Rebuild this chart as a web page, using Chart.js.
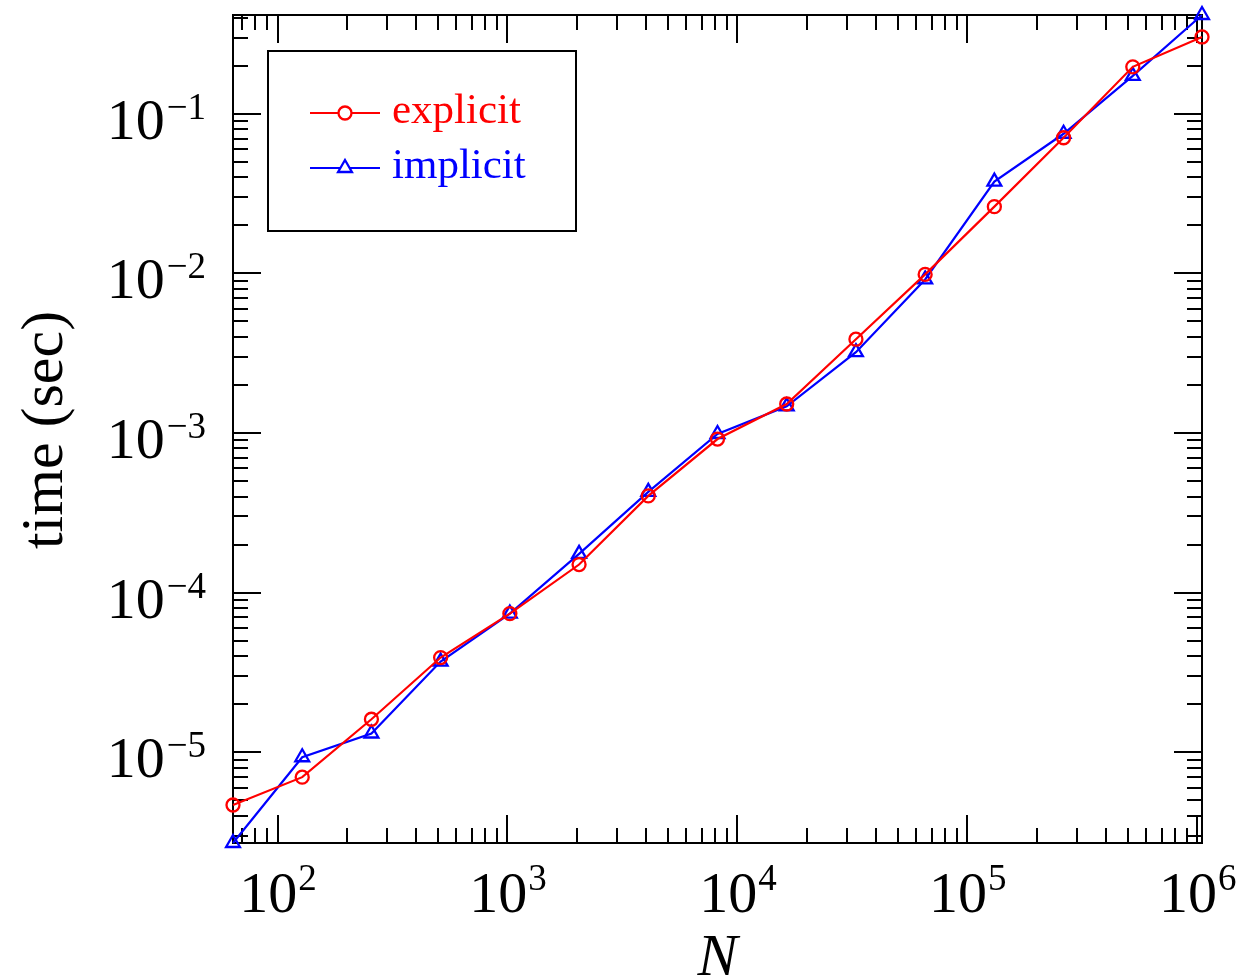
<!DOCTYPE html>
<html><head><meta charset="utf-8">
<script src="https://cdn.jsdelivr.net/npm/chart.js@4.4.1/dist/chart.umd.min.js"></script>
<style>html,body{margin:0;padding:0;background:#fff}#wrap{width:1238px;height:979px}</style>
</head><body><div id="wrap"><canvas id="c" width="1238" height="979"></canvas></div>
<script>
const N = [64,128,256,512,1024,2048,4096,8192,16384,32768,65536,131072,262144,524288,1048576];
const explicitTime = [4.67e-6, 6.98e-6, 1.61e-5, 3.92e-5, 7.39e-5, 1.50e-4, 4.04e-4, 9.17e-4, 1.52e-3, 3.87e-3, 9.86e-3, 2.62e-2, 7.08e-2, 0.197, 0.303];
const implicitTime = [2.7e-6, 9.3e-6, 1.31e-5, 3.7e-5, 7.39e-5, 1.75e-4, 4.28e-4, 9.86e-4, 1.47e-3, 3.21e-3, 9.17e-3, 3.76e-2, 7.5e-2, 0.173, 0.416];
const xMajorTicks = [1e2,1e3,1e4,1e5,1e6];
const xTickExp = ['2','3','4','5','6'];
const yMajorTicks = [1e-5,1e-4,1e-3,1e-2,1e-1];
const yTickExp = ['\u22125','\u22124','\u22123','\u22122','\u22121'];
const seriesLabels = ['explicit','implicit'];
const seriesColors = ['#ff0000','#0000ff'];
const xTitle = 'N', yTitle = 'time (sec)';

const FONT = '"Liberation Serif", "Times New Roman", serif';
const xMin = N[0], xMax = N[N.length-1];
const allY = explicitTime.concat(implicitTime);
const yMin = Math.min(...allY), yMax = Math.max(...allY);

function minorTicks(lo, hi){
  const out=[];
  for(let e=Math.floor(Math.log10(lo)); e<=Math.ceil(Math.log10(hi)); e++){
    for(let k=2;k<=9;k++){ const v=k*Math.pow(10,e); if(v>=lo*0.9999 && v<=hi*1.0001) out.push(v); }
  }
  return out;
}

const framePlugin = {
  id:'frame',
  beforeDatasetsDraw(chart){
    const {ctx, chartArea:a, scales:{x,y}} = chart;
    ctx.save();
    ctx.strokeStyle='#000'; ctx.lineWidth=2;
    const MAJ=28, MIN=15;
    ctx.beginPath();
    xMajorTicks.forEach(v=>{ const px=Math.round(x.getPixelForValue(v));
      ctx.moveTo(px,a.bottom); ctx.lineTo(px,a.bottom-MAJ);
      ctx.moveTo(px,a.top); ctx.lineTo(px,a.top+MAJ); });
    minorTicks(xMin,xMax).forEach(v=>{ const px=Math.round(x.getPixelForValue(v));
      ctx.moveTo(px,a.bottom); ctx.lineTo(px,a.bottom-MIN);
      ctx.moveTo(px,a.top); ctx.lineTo(px,a.top+MIN); });
    yMajorTicks.forEach(v=>{ const py=Math.round(y.getPixelForValue(v));
      ctx.moveTo(a.left,py); ctx.lineTo(a.left+MAJ,py);
      ctx.moveTo(a.right,py); ctx.lineTo(a.right-MAJ,py); });
    minorTicks(yMin,yMax).forEach(v=>{ const py=Math.round(y.getPixelForValue(v));
      ctx.moveTo(a.left,py); ctx.lineTo(a.left+MIN,py);
      ctx.moveTo(a.right,py); ctx.lineTo(a.right-MIN,py); });
    ctx.stroke();
    ctx.strokeRect(a.left,a.top,a.right-a.left,a.bottom-a.top);
    ctx.restore();
  },
  afterDraw(chart){
    const {ctx, chartArea:a, scales:{x,y}} = chart;
    ctx.save();
    ctx.fillStyle='#000';
    const baseF='58px '+FONT, supF='37px '+FONT;
    // x tick labels
    xMajorTicks.forEach((v,i)=>{
      const px=x.getPixelForValue(v);
      ctx.font=baseF; const w1=ctx.measureText('10').width;
      ctx.font=supF; const w2=ctx.measureText(xTickExp[i]).width;
      const left=px-(w1+w2)/2;
      ctx.textAlign='left'; ctx.textBaseline='alphabetic';
      ctx.font=baseF; ctx.fillText('10',left,a.bottom+69);
      ctx.font=supF; ctx.fillText(xTickExp[i],left+w1+1,a.bottom+47);
    });
    // y tick labels
    yMajorTicks.forEach((v,i)=>{
      const py=y.getPixelForValue(v);
      const right=a.left-27;
      ctx.font=supF; const w2=ctx.measureText(yTickExp[i]).width;
      ctx.textAlign='left'; ctx.textBaseline='alphabetic';
      ctx.fillText(yTickExp[i],right-w2,py+5);
      ctx.font=baseF; const w1=ctx.measureText('10').width;
      ctx.fillText('10',right-w2-w1-2,py+25);
    });
    // axis titles
    ctx.font='italic 60px '+FONT; ctx.textAlign='center'; ctx.textBaseline='alphabetic';
    ctx.fillText(xTitle,(a.left+a.right)/2,975);
    ctx.save();
    ctx.translate(62,430); ctx.rotate(-Math.PI/2);
    ctx.font='60px '+FONT; ctx.textAlign='center'; ctx.textBaseline='alphabetic';
    ctx.fillText(yTitle,0,0);
    ctx.restore();
    // legend
    ctx.lineWidth=2; ctx.strokeStyle='#000';
    ctx.strokeRect(268,51,308,180);
    const rows=[113,168];
    chart.data.datasets.forEach((ds,i)=>{
      const ly=rows[i];
      ctx.strokeStyle=ds.borderColor; ctx.lineWidth=2;
      ctx.beginPath(); ctx.moveTo(310,ly); ctx.lineTo(380,ly); ctx.stroke();
      ctx.fillStyle='#ffffff'; ctx.strokeStyle=ds.borderColor; ctx.lineWidth=ds.pointBorderWidth;
      Chart.helpers.drawPoint(ctx,{pointStyle:ds.pointStyle,radius:ds.pointRadius,rotation:0,borderWidth:ds.pointBorderWidth},345,ly);
      ctx.fillStyle=ds.borderColor; ctx.font='43px '+FONT; ctx.textAlign='left'; ctx.textBaseline='alphabetic';
      ctx.fillText(ds.label,392,ly+10);
    });
    ctx.restore();
  }
};

new Chart(document.getElementById('c'),{
  type:'line',
  data:{
    datasets:[
      {label:seriesLabels[0], data:N.map((n,i)=>({x:n,y:explicitTime[i]})), borderColor:seriesColors[0], backgroundColor:'rgba(0,0,0,0)', borderWidth:2.2, pointStyle:'circle', pointRadius:6.5, pointBorderWidth:2.3, pointBackgroundColor:'rgba(0,0,0,0)', tension:0, clip:false},
      {label:seriesLabels[1], data:N.map((n,i)=>({x:n,y:implicitTime[i]})), borderColor:seriesColors[1], backgroundColor:'rgba(0,0,0,0)', borderWidth:2.2, pointStyle:'triangle', pointRadius:8, pointBorderWidth:2.3, pointBackgroundColor:'rgba(0,0,0,0)', tension:0, clip:false}
    ]
  },
  options:{
    responsive:false, animation:false, devicePixelRatio:1,
    layout:{padding:{left:233,right:36,top:15,bottom:136}},
    plugins:{legend:{display:false},tooltip:{enabled:false}},
    scales:{
      x:{type:'logarithmic',min:xMin,max:xMax,display:false},
      y:{type:'logarithmic',min:yMin,max:yMax,display:false}
    }
  },
  plugins:[framePlugin]
});
</script></body></html>
